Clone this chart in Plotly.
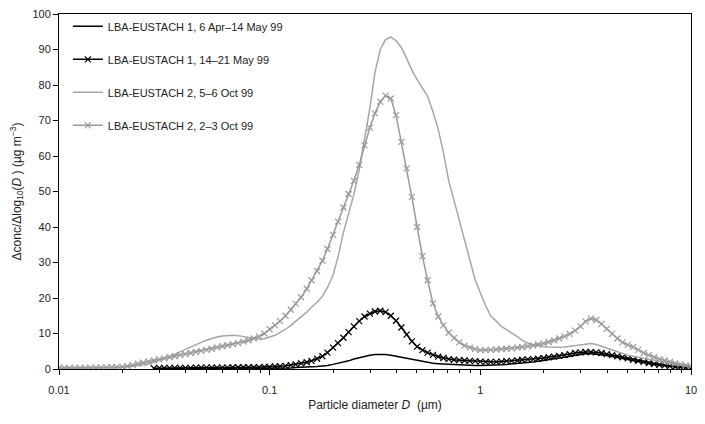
import plotly.graph_objects as go

# Particle diameter bins (µm), 40 per decade
diam = [0.0100, 0.0106, 0.0112, 0.0119, 0.0126, 0.0133, 0.0141, 0.0150, 0.0158, 0.0168,
        0.0178, 0.0188, 0.0200, 0.0211, 0.0224, 0.0237, 0.0251, 0.0266, 0.0282, 0.0299,
        0.0316, 0.0335, 0.0355, 0.0376, 0.0398, 0.0422, 0.0447, 0.0473, 0.0501, 0.0531,
        0.0562, 0.0596, 0.0631, 0.0668, 0.0708, 0.0750, 0.0794, 0.0841, 0.0891, 0.0944,
        0.100, 0.106, 0.112, 0.119, 0.126, 0.133, 0.141, 0.150, 0.158, 0.168,
        0.178, 0.188, 0.200, 0.211, 0.224, 0.237, 0.251, 0.266, 0.282, 0.299,
        0.316, 0.335, 0.355, 0.376, 0.398, 0.422, 0.447, 0.473, 0.501, 0.531,
        0.562, 0.596, 0.631, 0.668, 0.708, 0.750, 0.794, 0.841, 0.891, 0.944,
        1.00, 1.06, 1.12, 1.19, 1.26, 1.33, 1.41, 1.50, 1.58, 1.68,
        1.78, 1.88, 2.00, 2.11, 2.24, 2.37, 2.51, 2.66, 2.82, 2.99,
        3.16, 3.35, 3.55, 3.76, 3.98, 4.22, 4.47, 4.73, 5.01, 5.31,
        5.62, 5.96, 6.31, 6.68, 7.08, 7.50, 7.94, 8.41, 8.91, 9.44,
        10.0]

# LBA-EUSTACH 1, 6 Apr-14 May 99 (from 0.0282 µm)
s1 = [0.1, 0.1, 0.1, 0.1, 0.1, 0.1, 0.1, 0.1, 0.1, 0.1, 0.1,
      0.1, 0.1, 0.1, 0.1, 0.1, 0.1, 0.1, 0.1, 0.1, 0.1, 0.2,
      0.2, 0.2, 0.2, 0.3, 0.3, 0.4, 0.4, 0.5, 0.6, 0.7,
      0.8, 1.0, 1.3, 1.6, 1.9, 2.3, 2.8, 3.2, 3.6, 3.9,
      4.1, 4.2, 4.1, 3.9, 3.6, 3.3, 3.0, 2.7, 2.4, 2.1,
      1.8, 1.6, 1.5, 1.4, 1.3, 1.2, 1.1, 1.0, 1.0, 1.0,
      1.0, 1.0, 1.1, 1.1, 1.2, 1.3, 1.4, 1.5, 1.7, 1.8,
      2.0, 2.2, 2.4, 2.6, 2.8, 3.0, 3.3, 3.6, 3.9, 4.1,
      4.3, 4.3, 4.2, 4.0, 3.8, 3.5, 3.2, 2.9, 2.6, 2.3,
      2.0, 1.8, 1.5, 1.3, 1.1, 0.9, 0.7, 0.6, 0.5, 0.4,
      0.3]

# LBA-EUSTACH 1, 14-21 May 99 (from 0.0282 µm)
s2 = [0.2, 0.3, 0.3, 0.3, 0.3, 0.3, 0.3, 0.3, 0.4, 0.4, 0.4,
      0.4, 0.4, 0.4, 0.4, 0.5, 0.5, 0.5, 0.5, 0.5, 0.5, 0.6,
      0.6, 0.7, 0.8, 0.9, 1.1, 1.3, 1.6, 1.9, 2.3, 2.9,
      3.6, 4.6, 6.0, 7.3, 8.8, 10.4, 12.0, 13.5, 14.8, 15.6,
      16.2, 16.4, 16.0, 15.0, 13.6, 11.7, 9.7, 7.8, 6.3, 5.3,
      4.6, 4.0, 3.5, 3.1, 2.8, 2.6, 2.5, 2.4, 2.3, 2.2,
      2.1, 2.0, 2.0, 2.0, 2.1, 2.2, 2.3, 2.4, 2.6, 2.7,
      2.8, 2.9, 3.1, 3.3, 3.5, 3.7, 3.9, 4.2, 4.5, 4.7,
      4.8, 4.8, 4.7, 4.5, 4.2, 3.9, 3.6, 3.3, 3.0, 2.6,
      2.3, 2.0, 1.7, 1.4, 1.2, 1.0, 0.8, 0.6, 0.5, 0.4,
      0.3]

# LBA-EUSTACH 2, 5-6 Oct 99
s3 = [0.2, 0.2, 0.2, 0.2, 0.2, 0.2, 0.2, 0.3, 0.3, 0.3,
      0.3, 0.4, 0.5, 0.6, 0.7, 0.9, 1.1, 1.4, 1.9, 2.4,
      2.9, 3.5, 4.2, 4.9, 5.5, 6.2, 6.9, 7.5, 8.1, 8.6,
      9.0, 9.3, 9.5, 9.5, 9.4, 9.2, 8.9, 8.6, 8.4, 8.5,
      8.9, 9.5, 10.3, 11.2, 12.3, 13.4, 14.6, 16.0, 17.4, 18.8,
      20.5, 22.9, 26.5, 31.5, 38.5, 44.0, 49.2, 56.0, 64.5, 73.5,
      83.5, 90.0, 92.8, 93.5, 92.5, 90.5, 87.5, 84.2, 81.5, 79.3,
      76.8, 72.5, 67.5, 61.0, 53.0, 47.5, 42.0, 36.5, 31.0, 25.2,
      21.5, 17.8, 15.0, 13.3, 12.0, 11.1, 10.2, 9.1, 8.1, 7.3,
      6.9, 6.6, 6.3, 6.2, 6.1, 6.1, 6.2, 6.4, 6.7, 7.0,
      7.2, 7.2, 6.9, 6.4, 5.8, 5.3, 4.7, 4.3, 3.9, 3.6,
      3.3, 3.0, 2.7, 2.4, 2.1, 1.8, 1.6, 1.4, 1.2, 1.0,
      0.8]

# LBA-EUSTACH 2, 2-3 Oct 99
s4 = [0.3, 0.3, 0.3, 0.3, 0.3, 0.3, 0.3, 0.4, 0.4, 0.4,
      0.5, 0.5, 0.6, 0.8, 1.1, 1.5, 1.8, 2.1, 2.4, 2.7,
      3.0, 3.3, 3.6, 3.9, 4.2, 4.5, 4.8, 5.1, 5.4, 5.7,
      6.1, 6.4, 6.7, 7.0, 7.3, 7.7, 8.1, 8.6, 9.2, 10.0,
      11.2, 12.3, 13.5, 15.0, 16.7, 18.4, 20.2, 22.6, 25.0, 27.6,
      30.5, 33.8, 37.8, 41.5, 45.5, 49.3, 53.0, 57.5, 63.0, 68.0,
      72.0, 75.3, 77.0, 76.2, 71.5, 64.0, 56.5, 48.5, 40.0, 31.8,
      25.0, 18.5, 14.8, 12.3, 10.2, 8.7, 7.5, 6.6, 6.0, 5.6,
      5.3, 5.3, 5.4, 5.5, 5.6, 5.7, 5.8, 6.0, 6.2, 6.4,
      6.6, 6.9, 7.2, 7.6, 8.1, 8.6, 9.2, 9.9, 10.8, 12.0,
      13.4, 14.2, 13.8, 12.7, 11.3, 9.9, 8.6, 7.5, 6.8, 6.2,
      5.4, 4.5, 3.9, 3.3, 2.8, 2.4, 2.0, 1.6, 1.3, 1.0,
      0.7]

names = ["LBA-EUSTACH 1, 6 Apr–14 May 99",
         "LBA-EUSTACH 1, 14–21 May 99",
         "LBA-EUSTACH 2, 5–6 Oct 99",
         "LBA-EUSTACH 2, 2–3 Oct 99"]

x_ticks = [0.01, 0.1, 1, 10]
x_ticklabels = ["0.01", "0.1", "1", "10"]
x_minor = [0.02, 0.03, 0.04, 0.05, 0.06, 0.07, 0.08, 0.09,
           0.2, 0.3, 0.4, 0.5, 0.6, 0.7, 0.8, 0.9,
           2, 3, 4, 5, 6, 7, 8, 9]
y_ticks = list(range(0, 101, 10))

BLACK = "#000000"
GRAY = "#a6a6a6"
GRAYM = "#9a9a9a"

off1 = len(diam) - len(s1)
off2 = len(diam) - len(s2)

fig = go.Figure()
fig.add_trace(go.Scatter(x=diam[off1:], y=s1, name=names[0], mode="lines",
                         line=dict(color=BLACK, width=1.5), legendgroup="a"))
fig.add_trace(go.Scatter(x=diam[off2:], y=s2, name=names[1], mode="lines+markers",
                         line=dict(color=BLACK, width=1.5),
                         marker=dict(symbol="x-thin", size=6, color=BLACK,
                                     line=dict(color=BLACK, width=1.2)),
                         legendgroup="b"))
fig.add_trace(go.Scatter(x=diam, y=s3, name=names[2], mode="lines",
                         line=dict(color=GRAY, width=1.5), legendgroup="c"))
fig.add_trace(go.Scatter(x=diam, y=s4, name=names[3], mode="lines+markers",
                         line=dict(color=GRAYM, width=1.5),
                         marker=dict(symbol="x-thin", size=6, color=GRAYM,
                                     line=dict(color=GRAYM, width=1.2)),
                         legendgroup="d"))

FONT = "Liberation Sans, Arial, sans-serif"

fig.update_layout(
    width=705, height=424,
    margin=dict(l=59, r=8, t=10, b=55),
    paper_bgcolor="white", plot_bgcolor="white",
    font=dict(family=FONT, size=11, color="#222"),
    showlegend=True,
    legend=dict(x=0.014, y=1.006, xanchor="left", yanchor="top",
                bgcolor="rgba(255,255,255,0)", borderwidth=0,
                font=dict(size=11, color="#222"),
                traceorder="grouped", tracegroupgap=14),
    xaxis=dict(type="log", range=[-2, 1], tickvals=x_ticks, ticktext=x_ticklabels,
               showgrid=False, zeroline=False, showline=True, linecolor="black",
               linewidth=1, mirror=True, ticks="outside", ticklen=5, tickcolor="black",
               ticklabelstandoff=6,
               tickfont=dict(size=11, color="#222"),
               minor=dict(tickmode="array", tickvals=x_minor, ticks="outside",
                          ticklen=3, tickcolor="black", showgrid=False),
               title=dict(text="Particle diameter <i>D</i>  (µm)", standoff=5,
                          font=dict(size=12, color="#222"))),
    yaxis=dict(range=[0, 100], tickvals=y_ticks, showgrid=False, zeroline=False,
               showline=True, linecolor="black", linewidth=1, mirror=True,
               ticks="outside", ticklen=5, tickcolor="black",
               tickfont=dict(size=11, color="#222"),
               title=dict(text="Δconc/Δlog<sub>10</sub>(<i>D</i> ) (µg m<sup>−3</sup>)",
                          standoff=8, font=dict(size=12, color="#222"))),
)

fig.write_html("out.html")
